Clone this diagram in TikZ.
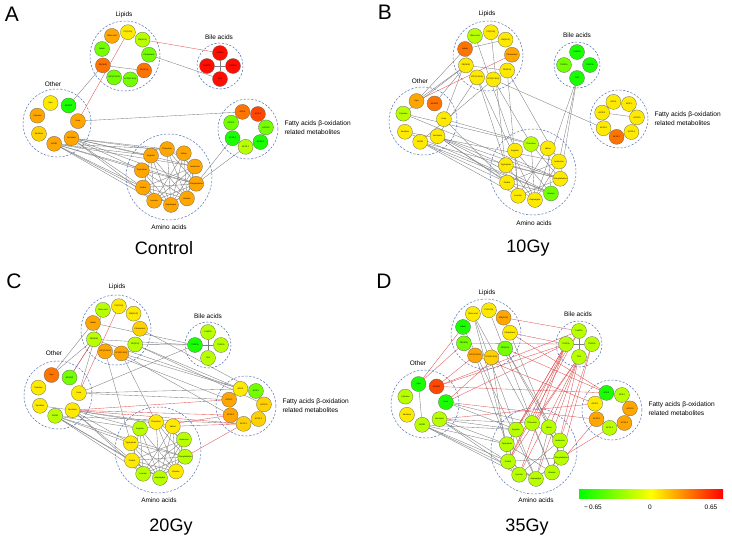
\documentclass[tikz,border=0pt]{standalone}
\usepackage{fontspec}
\setmainfont{Liberation Sans}
\usetikzlibrary{calc}
\pgfdeclarelayer{bg}
\pgfsetlayers{bg,main}

\definecolor{grpblue}{RGB}{80,110,180}
\definecolor{lnkgray}{RGB}{125,125,125}
\definecolor{lnkred}{RGB}{228,80,80}
% node colour levels, green (-) to red (+)
\colorlet{g3}{green!90!yellow}
\colorlet{g2}{green!55!yellow}
\colorlet{g1}{green!28!yellow}
\colorlet{y0}{yellow!96!red}
\colorlet{o1}{red!18!yellow}
\colorlet{o2}{red!35!yellow}
\colorlet{o3}{red!55!yellow}
\colorlet{o4}{red!72!yellow}
\colorlet{r0}{red!95!yellow}

\begin{document}
\begin{tikzpicture}[x=1pt, y=-1pt,
  met/.style={circle, draw=black!60, line width=0.3pt, minimum size=15pt,
    inner sep=0pt, font=\fontsize{2.1}{2.4}\selectfont},
  grp/.style={draw=grpblue, dash pattern=on 2.2pt off 1.6pt, line width=0.5pt},
  lnk/.style={draw=lnkgray, line width=0.35pt},
  rlnk/.style={draw=lnkred, line width=0.35pt},
  grplbl/.style={font=\fontsize{6.5}{7}\selectfont},
  fatlbl/.style={anchor=west, align=left, font=\fontsize{6.6}{9}\selectfont},
  tag/.style={font=\fontsize{21}{22}\selectfont},
  dose/.style={font=\fontsize{18}{20}\selectfont}]
\useasboundingbox (0,0) rectangle (732,544);

% ---------------- A : Control ----------------
\node[tag] (A-tag) at (12,14) {A};
\coordinate (A-lip) at (125,56);
\coordinate (A-bil) at (220,66);
\coordinate (A-oth) at (57,123);
\coordinate (A-fat) at (248,129);
\coordinate (A-ami) at (169,177);
\foreach \g/\r in {lip/35, bil/23, oth/34, fat/30, ami/43}
  \draw[grp] (A-\g) circle (\r);
\foreach \c/\t [count=\n] in {o2/Oleic acid, y0/PC(22:6), g1/SM(16:0), g2/Cholesterol, o3/PE(20:4), g2/LPC(O-16:0), g2/LPC(O-18:1), o3/PE(38:5), g2/Indole}
  \node[met, fill=\c] (A-l\n) at ($(A-lip)+({40*\n-163}:24)$) {\t};
\foreach \c/\t [count=\n] in {r0/TαMCA, r0/THDCA, r0/TCA, r0/TUDCA}
  \node[met, fill=\c] (A-b\n) at ($(A-bil)+({90*\n-180}:13)$) {\t};
\foreach \c/\t [count=\n] in {y0/Hpa, g3/ADGDP, o2/Urea, o2/Serotonin, o2/ADOD, o1/Xanthine, o2/Cytosine}
  \node[met, fill=\c] (A-o\n) at ($(A-oth)+({51.43*\n-159.43}:21)$) {\t};
\foreach \c/\t [count=\n] in {o3/AC6:0, o4/AC8:1, g2/AC20:5, g3/AC20:2, g1/AC13:1, g3/AC10:0, g2/AC20:1}
  \node[met, fill=\c] (A-f\n) at ($(A-fat)+({51.43*\n-159.43}:18)$) {\t};
\foreach \c/\t [count=\n] in {o2/Threonine, o2/Valine, o2/Isoleucine, o2/Phenylalanine, o2/Alanine, o2/Asparagine, o2/Leucine, o2/Proline, o2/Tryptophan, o2/Arginine}
  \node[met, fill=\c] (A-a\n) at ($(A-ami)+({36*\n-130}:28)$) {\t};
\node[grplbl] (A-liplbl) at (124,15) {Lipids};
\node[grplbl] (A-billbl) at (219,37) {Bile acids};
\node[grplbl] (A-othlbl) at (53,84) {Other};
\node[fatlbl] (A-fatlbl) at (281,127.5) {Fatty acids β-oxidation\\related metabolites};
\node[grplbl] (A-amilbl) at (169,227) {Amino acids};
\node[dose] (A-dose) at (164,248) {Control};
\begin{pgfonlayer}{bg}
\foreach \u/\v in {l8/l5, l4/b3, b1/b3, b2/b4, o2/l8, o3/f1, f5/a4, f6/a4,
  o4/a1, o4/a10, o4/a9, o4/a8, o4/a3, o4/a4, o4/a7, o4/a2,
  o5/a10, o5/a9, o5/a8, o5/a7, o5/a6, o5/a4, o5/a3, o5/a1}
  \draw[lnk] (A-\u) -- (A-\v);
\foreach \u/\v in {l3/b1, o3/l2}
  \draw[rlnk] (A-\u) -- (A-\v);
\foreach \i in {1,...,8} \foreach \k in {2,...,5} {
  \pgfmathtruncatemacro\j{\i+\k}
  \ifnum\j<11 \draw[lnk] (A-a\i) -- (A-a\j); \fi}
\end{pgfonlayer}

% ---------------- B : 10Gy ----------------
\node[tag] (B-tag) at (385,12) {B};
\coordinate (B-lip) at (488,56);
\coordinate (B-bil) at (577,65);
\coordinate (B-oth) at (423,121);
\coordinate (B-fat) at (619,119);
\coordinate (B-ami) at (533,172);
\foreach \g/\r in {lip/35, bil/23, oth/34, fat/29, ami/43}
  \draw[grp] (B-\g) circle (\r);
\foreach \c/\t [count=\n] in {g1/Oleic acid, y0/PC(22:6), y0/SM(16:0), o2/Cholesterol, y0/PE(20:4), y0/LPC(O-16:0), y0/LPC(O-18:1), y0/PE(38:5), o3/Indole}
  \node[met, fill=\c] (B-l\n) at ($(B-lip)+({40*\n-163}:24)$) {\t};
\foreach \c/\t [count=\n] in {g3/TαMCA, g3/THDCA, g3/TCA, g2/TUDCA}
  \node[met, fill=\c] (B-b\n) at ($(B-bil)+({90*\n-180}:13)$) {\t};
\foreach \c/\t [count=\n] in {o2/Hpa, o3/ADGDP, y0/Urea, y0/Serotonin, y0/ADOD, y0/Xanthine, g1/Cytosine}
  \node[met, fill=\c] (B-o\n) at ($(B-oth)+({51.43*\n-159.43}:21)$) {\t};
\foreach \c/\t [count=\n] in {y0/AC6:0, y0/AC8:1, y0/AC20:5, y0/AC20:2, o3/AC13:1, y0/AC10:0, y0/AC20:1}
  \node[met, fill=\c] (B-f\n) at ($(B-fat)+({51.43*\n-159.43}:18)$) {\t};
\foreach \c/\t [count=\n] in {g1/Threonine, y0/Valine, y0/Isoleucine, y0/Phenylalanine, g2/Alanine, y0/Asparagine, y0/Leucine, y0/Proline, y0/Tryptophan, y0/Arginine}
  \node[met, fill=\c] (B-a\n) at ($(B-ami)+({36*\n-130}:28)$) {\t};
\node[grplbl] (B-liplbl) at (487,14) {Lipids};
\node[grplbl] (B-billbl) at (577,35) {Bile acids};
\node[grplbl] (B-othlbl) at (420,81) {Other};
\node[fatlbl] (B-fatlbl) at (651,119) {Fatty acids β-oxidation\\related metabolites};
\node[grplbl] (B-amilbl) at (534,223) {Amino acids};
\node[dose] (B-dose) at (528,248) {10Gy};
\begin{pgfonlayer}{bg}
\foreach \u/\v in {o1/l9, o1/l8, o2/l8, o7/l8, o4/l7, o5/l6, o3/l1, l8/l5, l9/l3,
  l6/f6, b3/a4, b3/a3, b3/a6, l6/a1, l7/a9, l7/a6, l5/a3, l5/a7, l2/a8, l1/a10,
  o3/a8, o3/a2, o4/a9, o4/a8, o4/a5, o4/a6, o4/a4, o5/a7, o5/a8, o5/a4, o5/a5,
  o7/a1, o7/a4, o6/a3, o6/a5, f7/f3}
  \draw[lnk] (B-\u) -- (B-\v);
\foreach \u/\v in {o1/l4}
  \draw[rlnk] (B-\u) -- (B-\v);
\foreach \i in {1,...,8} \foreach \k in {3,5} {
  \pgfmathtruncatemacro\j{\i+\k}
  \ifnum\j<11 \draw[lnk] (B-a\i) -- (B-a\j); \fi}
\end{pgfonlayer}

% ---------------- C : 20Gy ----------------
\node[tag] (C-tag) at (14,281) {C};
\coordinate (C-lip) at (116,330);
\coordinate (C-bil) at (208,345);
\coordinate (C-oth) at (58,395);
\coordinate (C-fat) at (246,406);
\coordinate (C-ami) at (158,450);
\foreach \g/\r in {lip/35, bil/23, oth/34, fat/30, ami/43}
  \draw[grp] (C-\g) circle (\r);
\foreach \c/\t [count=\n] in {g1/Oleic acid, y0/PC(22:6), y0/SM(16:0), o1/Cholesterol, g1/PE(20:4), o2/LPC(O-16:0), o2/LPC(O-18:1), g1/PE(38:5), o2/Indole}
  \node[met, fill=\c] (C-l\n) at ($(C-lip)+({40*\n-163}:24)$) {\t};
\foreach \c/\t [count=\n] in {g1/TαMCA, g1/THDCA, g1/TCA, g3/TUDCA}
  \node[met, fill=\c] (C-b\n) at ($(C-bil)+({90*\n-180}:13)$) {\t};
\foreach \c/\t [count=\n] in {o3/Hpa, g2/ADGDP, y0/Urea, y0/Serotonin, g1/ADOD, y0/Xanthine, y0/Cytosine}
  \node[met, fill=\c] (C-o\n) at ($(C-oth)+({51.43*\n-159.43}:21)$) {\t};
\foreach \c/\t [count=\n] in {y0/AC6:0, g2/AC8:1, o1/AC20:5, o1/AC20:2, o1/AC13:1, o2/AC10:0, o2/AC20:1}
  \node[met, fill=\c] (C-f\n) at ($(C-fat)+({51.43*\n-159.43}:18)$) {\t};
\foreach \c/\t [count=\n] in {y0/Threonine, y0/Valine, g1/Isoleucine, g1/Phenylalanine, y0/Alanine, g1/Asparagine, g1/Leucine, y0/Proline, y0/Tryptophan, g1/Arginine}
  \node[met, fill=\c] (C-a\n) at ($(C-ami)+({36*\n-130}:28)$) {\t};
\node[grplbl] (C-liplbl) at (117,287) {Lipids};
\node[grplbl] (C-billbl) at (208,316) {Bile acids};
\node[grplbl] (C-othlbl) at (54,353) {Other};
\node[fatlbl] (C-fatlbl) at (279,406) {Fatty acids β-oxidation\\related metabolites};
\node[grplbl] (C-amilbl) at (159,500) {Amino acids};
\node[dose] (C-dose) at (171,527) {20Gy};
\begin{pgfonlayer}{bg}
\foreach \u/\v in {o1/l9, o1/l8, o2/l8, o3/l1, l8/b4, l5/b4, l9/b4, l8/f1, l5/f1,
  l6/f1, l7/f7, l5/f3, l6/f6, l4/f2, o3/f1, o3/f7, o3/b4, o5/f5, l6/a1, l7/a9,
  o4/a10, o4/a9, o4/a8, o4/a1, o4/a7, o4/a2, o5/a9, o5/a8, o5/a7, o5/a6, o5/a10,
  o5/a4, o6/o4, b1/b3, b2/b4}
  \draw[lnk] (C-\u) -- (C-\v);
\foreach \u/\v in {o3/l2, o4/f7, o4/f6, o4/f5, a10/f6, a2/f5, a4/f5, o2/l8}
  \draw[rlnk] (C-\u) -- (C-\v);
\foreach \i in {1,...,8} \foreach \k in {2,...,5} {
  \pgfmathtruncatemacro\j{\i+\k}
  \ifnum\j<11 \draw[lnk] (C-a\i) -- (C-a\j); \fi}
\end{pgfonlayer}

% ---------------- D : 35Gy ----------------
\node[tag] (D-tag) at (384,281) {D};
\coordinate (D-lip) at (486,334);
\coordinate (D-bil) at (579,344);
\coordinate (D-oth) at (425,404);
\coordinate (D-fat) at (612,410);
\coordinate (D-ami) at (534,451);
\foreach \g/\r in {lip/35, bil/23, oth/34, fat/30, ami/43}
  \draw[grp] (D-\g) circle (\r);
\foreach \c/\t [count=\n] in {y0/Oleic acid, y0/PC(22:6), o2/SM(16:0), y0/Cholesterol, g2/PE(20:4), o1/LPC(O-16:0), o2/LPC(O-18:1), g2/PE(38:5), g3/Indole}
  \node[met, fill=\c] (D-l\n) at ($(D-lip)+({40*\n-163}:24)$) {\t};
\foreach \c/\t [count=\n] in {g1/TαMCA, g1/THDCA, g1/TCA, g1/TUDCA}
  \node[met, fill=\c] (D-b\n) at ($(D-bil)+({90*\n-180}:13)$) {\t};
\foreach \c/\t [count=\n] in {g3/Hpa, o4/ADGDP, g3/Urea, g1/Serotonin, g1/ADOD, y0/Xanthine, g1/Cytosine}
  \node[met, fill=\c] (D-o\n) at ($(D-oth)+({51.43*\n-159.43}:21)$) {\t};
\foreach \c/\t [count=\n] in {g3/AC6:0, g1/AC8:1, o2/AC20:5, o2/AC20:2, g1/AC13:1, o2/AC10:0, y0/AC20:1}
  \node[met, fill=\c] (D-f\n) at ($(D-fat)+({51.43*\n-159.43}:18)$) {\t};
\foreach \c/\t [count=\n] in {g1/Threonine, g1/Valine, g1/Isoleucine, g1/Phenylalanine, g1/Alanine, g1/Asparagine, g1/Leucine, g1/Proline, g1/Tryptophan, g1/Arginine}
  \node[met, fill=\c] (D-a\n) at ($(D-ami)+({36*\n-130}:28)$) {\t};
\node[grplbl] (D-liplbl) at (487,293) {Lipids};
\node[grplbl] (D-billbl) at (578,314) {Bile acids};
\node[grplbl] (D-othlbl) at (418,363) {Other};
\node[fatlbl] (D-fatlbl) at (645,408.5) {Fatty acids β-oxidation\\related metabolites};
\node[grplbl] (D-amilbl) at (536,500) {Amino acids};
\node[dose] (D-dose) at (527,527) {35Gy};
\begin{pgfonlayer}{bg}
\foreach \u/\v in {l1/a1, l1/a10, l1/a9, l2/a5, l6/a8, l7/a9, l5/a3, l5/a2, l9/a6,
  l3/a4, o4/a10, o4/a9, o4/a8, o4/a7, o4/a1, o5/a9, o5/a8, o5/a6, o5/a7, o5/a10,
  o1/o5, o3/a1, o3/a10, b1/b3, b2/b4}
  \draw[lnk] (D-\u) -- (D-\v);
\foreach \u/\v in {b4/a1, b4/a10, b4/a9, b4/a8, b4/a7, b3/a1, b3/a2, b3/a6,
  b3/a7, b3/a8, b1/a9, b1/a8, b3/a5, b2/a3, b2/a4, b4/o3, b4/o2, b4/l4, b1/l3,
  l4/f1, l5/f1, o1/l8, o2/l7, o1/l9, o3/l5, o2/f1, o4/f7, o3/f6, a4/f5, a5/f6,
  l7/f7, l8/b4, o2/b1}
  \draw[rlnk] (D-\u) -- (D-\v);
\foreach \i in {1,...,8} \foreach \k in {2,4} {
  \pgfmathtruncatemacro\j{\i+\k}
  \ifnum\j<11 \draw[lnk] (D-a\i) -- (D-a\j); \fi}
\end{pgfonlayer}

% colour scale
\shade[left color=green, right color=yellow] (579,489) rectangle (651,498);
\shade[left color=yellow, right color=red] (651,489) rectangle (723,498);
\node[grplbl] (sc-min) at (593,507) {−\,0.65};
\node[grplbl] (sc-mid) at (650,507) {0};
\node[grplbl] (sc-max) at (711,507) {0.65};
\end{tikzpicture}
\end{document}
